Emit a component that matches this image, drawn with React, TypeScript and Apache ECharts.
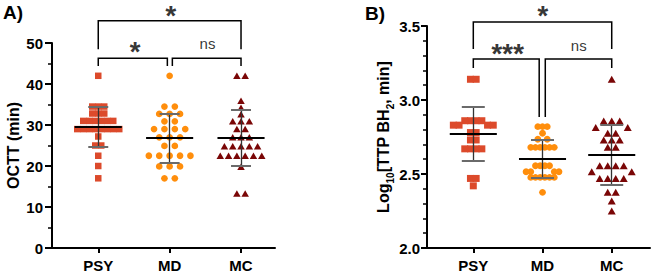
import React, { useEffect, useRef } from "react";
import * as echarts from "echarts";

// ---------- data ----------
const categories = ["PSY", "MD", "MC"];

// Panel A: OCTT (min)
const octtPSY = [42, 34.5, 34.5, 34.5, 32.8, 32.8, 32.8, 31, 31, 31, 31, 31, 31, 29, 29, 29, 29, 29, 29, 29, 29, 27.2, 25, 25, 22.5, 20, 17];
const octtMD = [42, 34.5, 34.5, 32.7, 32.7, 32.7, 30.9, 30.9, 29, 29, 29, 29, 27, 27, 27, 24.9, 24.9, 22.5, 22.5, 22.5, 22.5, 22.5, 19.9, 19.9, 19.9, 17, 17];
const octtMC = [42, 42, 35.9, 34.2, 32.6, 30.9, 30.9, 30.9, 29, 29, 27, 27, 27, 24.8, 24.8, 24.8, 24.8, 24.8, 22.5, 22.5, 22.5, 22.5, 22.5, 22.5, 19.8, 13.3, 13.3];
const octtMean = [29.5, 26.8, 26.8];
const octtSD = [4.9, 6.0, 6.8];
const octtTicks = [0, 10, 20, 30, 40, 50];

// Panel B: Log10[TTP BH2, min]
const ttpPSY = [3.14, 3.14, 2.86, 2.86, 2.86, 2.86, 2.83, 2.83, 2.83, 2.83, 2.78, 2.78, 2.73, 2.73, 2.67, 2.67, 2.67, 2.67, 2.47, 2.47, 2.42];
const ttpMD = [2.82, 2.82, 2.82, 2.775, 2.735, 2.735, 2.68, 2.68, 2.68, 2.68, 2.68, 2.68, 2.556, 2.556, 2.556, 2.556, 2.515, 2.515, 2.515, 2.515, 2.477, 2.477, 2.477, 2.477, 2.477, 2.477, 2.376];
const ttpMC = [3.14, 2.858, 2.858, 2.858, 2.815, 2.815, 2.775, 2.775, 2.73, 2.73, 2.73, 2.68, 2.68, 2.556, 2.556, 2.556, 2.556, 2.515, 2.515, 2.47, 2.47, 2.47, 2.47, 2.376, 2.376, 2.318, 2.25];
const ttpMean = [2.772, 2.605, 2.628];
const ttpSD = [0.184, 0.127, 0.203];
const ttpTicks = [2.0, 2.5, 3.0, 3.5];

// significance annotations
const sigA = [
  { from: 0, to: 2, text: "*" },
  { from: 0, to: 1, text: "*" },
  { from: 1, to: 2, text: "ns" },
];
const sigB = [
  { from: 0, to: 2, text: "*" },
  { from: 0, to: 1, text: "***" },
  { from: 1, to: 2, text: "ns" },
];

// ---------- styling ----------
const FONT = '"Liberation Sans", Arial, sans-serif';
const COLORS = ["#DC4A2B", "#FF8E0C", "#7A0606"];
const SYMBOLS = ["rect", "circle", "triangle"];

function swarm(values: number[], center: number, spacingPx: number, binPx: number, pxX: number, pxY: number) {
  const sorted = values.slice().sort((a, b) => b - a);
  const bins: number[][] = [];
  let cur: number[] = [];
  let start = NaN;
  for (const v of sorted) {
    if (cur.length && (start - v) * pxY < binPx) cur.push(v);
    else {
      if (cur.length) bins.push(cur);
      cur = [v];
      start = v;
    }
  }
  if (cur.length) bins.push(cur);
  const pts: number[][] = [];
  for (const b of bins) {
    const n = b.length;
    const offs = Array.from({ length: n }, (_, k) => (k - (n - 1) / 2) * spacingPx);
    offs.sort((a, c) => Math.abs(a) - Math.abs(c) || a - c);
    b.forEach((v, i) => pts.push([center + offs[i] / pxX, v]));
  }
  return pts;
}

type Panel = {
  grid: { left: number; top: number; width: number; height: number };
  xMin: number;
  xMax: number;
  ticks: number[];
  minorSplit: number;
  decimals: number;
  groups: number[][];
  mean: number[];
  sd: number[];
  spacing: number[];
  sizes: (number | number[])[];
  binPx: number;
  meanHalf: number;
  capHalf: number;
  brackets: { coords: number[][] }[];
  sig: { from: number; to: number; text: string }[];
  sigPos: number[][];
  tickLen: number;
  labelMargin: number;
};

const panelA: Panel = {
  grid: { left: 52, top: 43, width: 223, height: 205 },
  xMin: -0.648,
  xMax: 2.476,
  ticks: octtTicks,
  minorSplit: 2,
  decimals: 0,
  groups: [octtPSY, octtMD, octtMC],
  mean: octtMean,
  sd: octtSD,
  spacing: [6, 10.4, 8.3],
  sizes: [6.5, 6.7, [7.5, 6.5]],
  binPx: 5,
  meanHalf: 0.33,
  capHalf: 0.14,
  brackets: [
    { coords: [[0, 48.46], [0, 55.44], [2, 55.44], [2, 48.46]] },
    { coords: [[0, 44.39], [0, 46.27], [0.968, 46.27], [0.968, 44.39]] },
    { coords: [[1.038, 44.39], [1.038, 46.27], [2, 46.27], [2, 44.39]] },
  ],
  sig: sigA,
  sigPos: [[1, 56.7], [0.5, 47.98], [1.53, 49.76]],
  tickLen: 7,
  labelMargin: 9,
};

const panelB: Panel = {
  grid: { left: 427, top: 26, width: 223, height: 222 },
  xMin: -0.669,
  xMax: 2.553,
  ticks: ttpTicks,
  minorSplit: 5,
  decimals: 1,
  groups: [ttpPSY, ttpMD, ttpMC],
  mean: ttpMean,
  sd: ttpSD,
  spacing: [5.7, 4.7, 8],
  sizes: [7, 6.8, [8, 7]],
  binPx: 6.5,
  meanHalf: 0.34,
  capHalf: 0.166,
  brackets: [
    { coords: [[0, 3.345], [0, 3.527], [2, 3.527], [2, 3.345]] },
    { coords: [[0, 3.216], [0, 3.277], [0.952, 3.277], [0.952, 2.885]] },
    { coords: [[1.04, 2.885], [1.04, 3.277], [2, 3.277], [2, 3.216]] },
  ],
  sig: sigB,
  sigPos: [[0.99, 3.568], [0.48, 3.316], [1.523, 3.368]],
  tickLen: 6,
  labelMargin: 7,
};

function buildOption() {
  const panels = [panelA, panelB];
  const grids: any[] = [];
  const xAxes: any[] = [];
  const yAxes: any[] = [];
  const series: any[] = [];

  panels.forEach((p, gi) => {
    const yMin = p.ticks[0];
    const yMax = p.ticks[p.ticks.length - 1];
    const interval = p.ticks[1] - p.ticks[0];
    const pxX = p.grid.width / (p.xMax - p.xMin);
    const pxY = p.grid.height / (yMax - yMin);
    grids.push({ ...p.grid, containLabel: false });
    xAxes.push({
      type: "value",
      gridIndex: gi,
      min: p.xMin,
      max: p.xMax,
      axisLine: { show: true, onZero: false, lineStyle: { color: "#000", width: 2 } },
      axisTick: { show: true, customValues: [0, 1, 2], length: 5, lineStyle: { color: "#000", width: 2 } },
      axisLabel: {
        show: true,
        customValues: [0, 1, 2],
        formatter: (v: number) => categories[Math.round(v)] ?? "",
        margin: 10,
        color: "#000",
        fontFamily: FONT,
        fontWeight: "bold",
        fontSize: 15,
      },
      splitLine: { show: false },
    });
    yAxes.push({
      type: "value",
      gridIndex: gi,
      min: yMin,
      max: yMax,
      interval,
      name:
        gi === 0
          ? "OCTT (min)"
          : "{n|Log}{s|10}{n|[TTP BH}{s|2}{n|, min]}",
      nameLocation: "middle",
      nameRotate: 90,
      nameGap: gi === 0 ? 31 : 28,
      nameTextStyle: {
        color: "#000",
        fontFamily: FONT,
        fontWeight: "bold",
        fontSize: 16,
        rich: {
          n: { fontFamily: FONT, fontWeight: "bold", fontSize: 16, lineHeight: 16, verticalAlign: "middle", color: "#000" },
          s: { fontFamily: FONT, fontWeight: "bold", fontSize: 10, lineHeight: 24, verticalAlign: "bottom", color: "#000" },
        },
      },
      axisLine: { show: true, onZero: false, lineStyle: { color: "#000", width: 2 } },
      axisTick: { show: true, length: p.tickLen, lineStyle: { color: "#000", width: 2 } },
      minorTick: { show: true, splitNumber: p.minorSplit, length: 4, lineStyle: { color: "#000", width: 1.5 } },
      axisLabel: {
        margin: p.labelMargin,
        color: "#000",
        fontFamily: FONT,
        fontWeight: "bold",
        fontSize: 15,
        formatter: (v: number) => v.toFixed(p.decimals),
      },
      splitLine: { show: false },
    });

    // points
    p.groups.forEach((vals, ci) => {
      series.push({
        type: "scatter",
        xAxisIndex: gi,
        yAxisIndex: gi,
        symbol: SYMBOLS[ci],
        symbolSize: p.sizes[ci],
        itemStyle: { color: COLORS[ci], opacity: 1 },
        data: swarm(vals, ci, p.spacing[ci], p.binPx, pxX, pxY),
        z: 2,
        silent: true,
      });
    });

    // SD vertical lines
    series.push({
      type: "lines",
      coordinateSystem: "cartesian2d",
      xAxisIndex: gi,
      yAxisIndex: gi,
      lineStyle: { color: "#333", width: 1.3, opacity: 1 },
      data: p.mean.map((m, i) => ({ coords: [[i, m - p.sd[i]], [i, m + p.sd[i]]] })),
      z: 4,
      silent: true,
    });
    // SD caps
    series.push({
      type: "lines",
      coordinateSystem: "cartesian2d",
      xAxisIndex: gi,
      yAxisIndex: gi,
      lineStyle: { color: "#6a6a6a", width: 2, opacity: 1 },
      data: p.mean.flatMap((m, i) => [
        { coords: [[i - p.capHalf, m + p.sd[i]], [i + p.capHalf, m + p.sd[i]]] },
        { coords: [[i - p.capHalf, m - p.sd[i]], [i + p.capHalf, m - p.sd[i]]] },
      ]),
      z: 4,
      silent: true,
    });
    // mean lines
    series.push({
      type: "lines",
      coordinateSystem: "cartesian2d",
      xAxisIndex: gi,
      yAxisIndex: gi,
      lineStyle: { color: "#000", width: 2, opacity: 1 },
      data: p.mean.map((m, i) => ({ coords: [[i - p.meanHalf, m], [i + p.meanHalf, m]] })),
      z: 5,
      silent: true,
    });
    // brackets
    series.push({
      type: "lines",
      coordinateSystem: "cartesian2d",
      xAxisIndex: gi,
      yAxisIndex: gi,
      polyline: true,
      clip: false,
      lineStyle: { color: "#000", width: 1.5, opacity: 1 },
      data: p.brackets,
      z: 5,
      silent: true,
    });
    // significance labels
    series.push({
      type: "scatter",
      xAxisIndex: gi,
      yAxisIndex: gi,
      clip: false,
      symbolSize: 1,
      itemStyle: { color: "rgba(0,0,0,0)" },
      silent: true,
      data: p.sig.map((s, i) => ({
        value: [p.sigPos[i][0], p.sigPos[i][1]],
        name: s.text,
        label:
          s.text === "ns"
            ? { fontSize: 15, fontWeight: "normal", fontStyle: "normal" }
            : { fontSize: 28, fontWeight: "bold", fontStyle: "italic" },
      })),
      label: {
        show: true,
        position: "inside",
        formatter: (d: any) => d.name,
        color: "#000",
        fontFamily: FONT,
      },
      labelLayout: { hideOverlap: false },
      z: 6,
    });
  });

  return {
    animation: false,
    grid: grids,
    xAxis: xAxes,
    yAxis: yAxes,
    series,
    graphic: [
      {
        type: "text",
        left: 3,
        top: 3,
        style: { text: "A)", font: `bold 19px ${FONT}`, fill: "#000" },
      },
      {
        type: "text",
        left: 365,
        top: 4,
        style: { text: "B)", font: `bold 19px ${FONT}`, fill: "#000" },
      },
    ],
  };
}

export default function App() {
  const ref = useRef<HTMLDivElement>(null);
  useEffect(() => {
    document.body.style.margin = "0";
    const chart = echarts.init(ref.current!, null, { renderer: "svg" });
    chart.setOption(buildOption() as any);
    return () => chart.dispose();
  }, []);
  return (
    <div
      ref={ref}
      style={{ position: "absolute", left: 0, top: 0, width: 661, height: 276, background: "#fff" }}
    />
  );
}
